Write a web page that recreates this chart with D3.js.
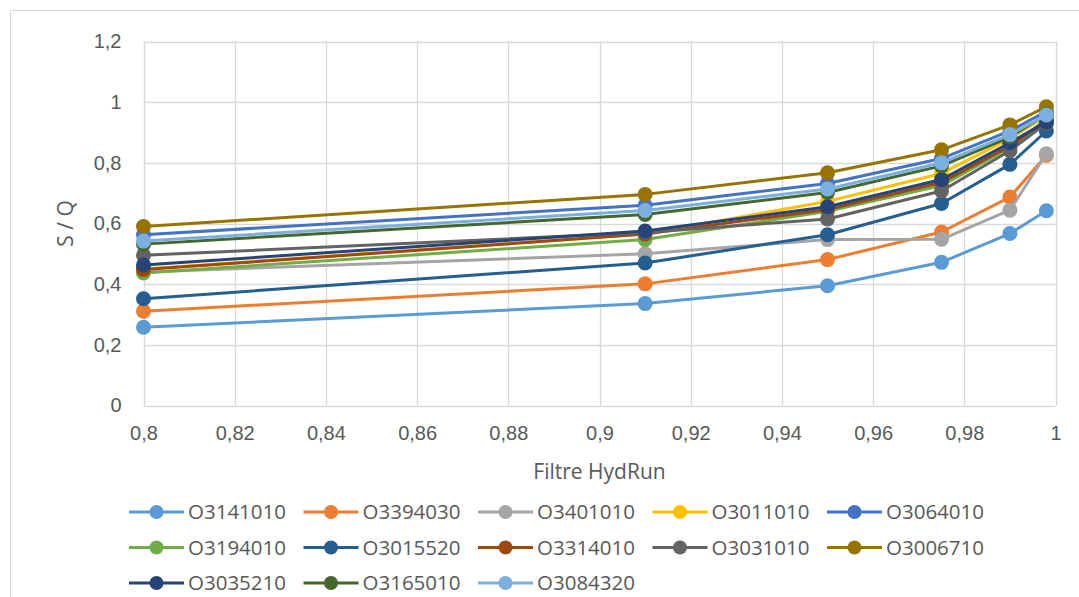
<!DOCTYPE html>
<html><head><meta charset="utf-8">
<script src="https://cdn.jsdelivr.net/npm/d3@7"></script>
<style>html,body{margin:0;padding:0;background:#fff;}svg{display:block;font-family:"Open Sans","Liberation Sans",sans-serif;}</style>
</head><body>
<svg id="chart" width="1079" height="597"></svg>
<script>
const xValues = [0.8, 0.91, 0.95, 0.975, 0.99, 0.998];
const seriesNames = ["O3141010","O3394030","O3401010","O3011010","O3064010","O3194010","O3015520","O3314010","O3031010","O3006710","O3035210","O3165010","O3084320"];
const s_O3141010 = [0.258, 0.336, 0.395, 0.472, 0.567, 0.642];
const s_O3394030 = [0.311, 0.401, 0.481, 0.572, 0.687, 0.825];
const s_O3401010 = [0.440, 0.500, 0.547, 0.548, 0.644, 0.830];
const s_O3011010 = [0.450, 0.565, 0.673, 0.765, 0.880, 0.955];
const s_O3064010 = [0.563, 0.660, 0.732, 0.814, 0.905, 0.970];
const s_O3194010 = [0.437, 0.547, 0.640, 0.725, 0.850, 0.945];
const s_O3015520 = [0.352, 0.470, 0.563, 0.666, 0.795, 0.905];
const s_O3314010 = [0.448, 0.565, 0.646, 0.735, 0.855, 0.940];
const s_O3031010 = [0.495, 0.570, 0.615, 0.707, 0.840, 0.930];
const s_O3006710 = [0.590, 0.696, 0.767, 0.843, 0.925, 0.985];
const s_O3035210 = [0.463, 0.575, 0.655, 0.745, 0.866, 0.935];
const s_O3165010 = [0.532, 0.630, 0.702, 0.790, 0.885, 0.960];
const s_O3084320 = [0.542, 0.643, 0.714, 0.800, 0.893, 0.958];
const seriesValues = [s_O3141010,s_O3394030,s_O3401010,s_O3011010,s_O3064010,s_O3194010,s_O3015520,s_O3314010,s_O3031010,s_O3006710,s_O3035210,s_O3165010,s_O3084320];
const colors = ["#5B9BD5","#ED7D31","#A5A5A5","#FFC000","#4472C4","#70AD47","#255E91","#9E480E","#636363","#997300","#264478","#43682B","#7CAFDD"];
const xTicks = [0.8,0.82,0.84,0.86,0.88,0.9,0.92,0.94,0.96,0.98,1];
const yTicks = [0,0.2,0.4,0.6,0.8,1,1.2];
const xTitle = "Filtre HydRun";
const yTitle = "S / Q";

const svg = d3.select("#chart");
const fmt = v => String(+v.toFixed(2)).replace(".", ",");
const x = d3.scaleLinear().domain([0.8, 1]).range([143.5, 1055.5]);
const y = d3.scaleLinear().domain([0, 1.2]).range([405.5, 41.5]);
const textColor = "#595959";

svg.append("rect").attr("x",10.5).attr("y",10.5).attr("width",1075).attr("height",600)
  .attr("fill","none").attr("stroke","#D9D9D9").attr("stroke-width",1);

const g = svg.append("g");
g.selectAll("line.h").data(yTicks).join("line")
  .attr("x1",x(0.8)).attr("x2",x(1)).attr("y1",d=>Math.round(y(d))+0.5).attr("y2",d=>Math.round(y(d))+0.5)
  .attr("stroke","#D9D9D9").attr("stroke-width",1.3);
g.selectAll("line.v").data(xTicks).join("line")
  .attr("y1",y(0)).attr("y2",y(1.2)).attr("x1",d=>Math.round(x(d))+0.5).attr("x2",d=>Math.round(x(d))+0.5)
  .attr("stroke","#D9D9D9").attr("stroke-width",1.3);

const yAxis = d3.axisLeft(y).tickValues(yTicks).tickFormat(fmt).tickSize(0).tickPadding(22);
const ya = svg.append("g").attr("transform",`translate(${x(0.8)},0)`).call(yAxis);
ya.select(".domain").remove();
ya.selectAll("text").attr("fill",textColor).style("font-size","20px");
const xAxis = d3.axisBottom(x).tickValues(xTicks).tickFormat(fmt).tickSize(0).tickPadding(20);
const xa = svg.append("g").attr("transform",`translate(0,${y(0)})`).call(xAxis);
xa.select(".domain").remove();
xa.selectAll("text").attr("fill",textColor).style("font-size","20px");

svg.append("text").attr("x",(x(0.8)+x(1))/2).attr("y",479).attr("text-anchor","middle")
  .attr("fill",textColor).style("font-size","21px").text(xTitle);
svg.append("text").attr("transform",`translate(73,${(y(0)+y(1.2))/2}) rotate(-90)`).attr("text-anchor","middle")
  .attr("fill",textColor).style("font-size","21px").text(yTitle);

const line = d3.line().x((d,i)=>x(xValues[i])).y(d=>y(d));
seriesValues.forEach((vals,si)=>{
  const sg = svg.append("g");
  sg.append("path").datum(vals).attr("d",line).attr("fill","none")
    .attr("stroke",colors[si]).attr("stroke-width",3).attr("stroke-linejoin","round");
  sg.selectAll("circle").data(vals).join("circle")
    .attr("cx",(d,i)=>x(xValues[i])).attr("cy",d=>y(d)).attr("r",7.5).attr("fill",colors[si]);
});

const leg = svg.append("g");
seriesNames.forEach((name,i)=>{
  const col = i%5, row = Math.floor(i/5);
  const lx = 129 + col*174.5, ly = 512 + row*35.5;
  const it = leg.append("g").attr("transform",`translate(${lx},${ly})`);
  it.append("line").attr("x1",0).attr("x2",55).attr("y1",0).attr("y2",0)
    .attr("stroke",colors[i]).attr("stroke-width",3);
  it.append("circle").attr("cx",27.5).attr("cy",0).attr("r",7).attr("fill",colors[i]);
  it.append("text").attr("x",59).attr("y",0).attr("dy","0.35em").attr("fill",textColor)
    .style("font-size","20.5px").text(name);
});
</script>
</body></html>
